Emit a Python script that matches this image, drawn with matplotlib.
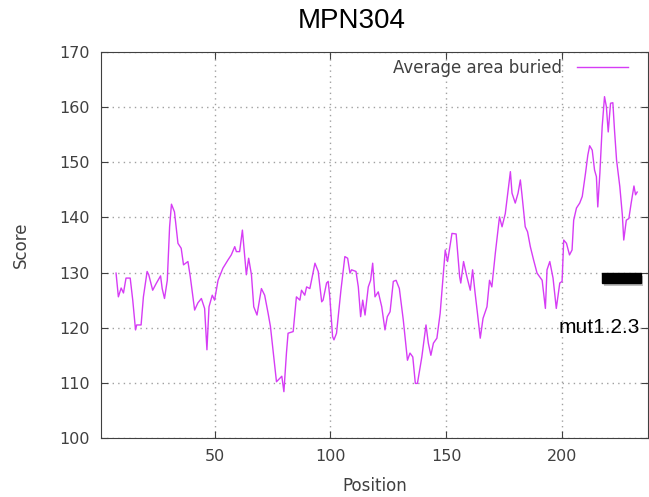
import numpy as np
import matplotlib.pyplot as plt
from matplotlib.patches import Rectangle
import matplotlib.patheffects as pe

# values
position = [7.5, 8.5, 9.7, 10.7, 11.8, 13.6, 14.7, 15.9, 16.4, 18.3, 19.3, 20.9, 21.6, 23.3,
            24.8, 26.7, 27.4, 28.4, 29.6, 30.6, 31.4, 32.7, 34.2, 35.6, 36.6, 38.5, 39.5,
            41.4, 42.8, 44.3, 45.7, 46.7, 47.6, 49.0, 50.0, 51.5, 53.6, 55.8, 57.2, 58.7,
            59.4, 60.8, 62.0, 63.0, 63.7, 64.7, 65.9, 66.9, 68.3, 70.2, 71.6, 73.1, 74.1,
            75.2, 76.7, 78.1, 79.0, 79.9, 81.0, 81.7, 83.9, 85.3, 86.8, 87.5, 88.9, 89.7,
            91.1, 93.3, 94.7, 96.2, 96.8, 98.3, 99.0, 99.7, 100.9, 101.5, 102.6, 104.5,
            106.2, 107.4, 108.4, 109.1, 111.0, 112.0, 113.0, 113.9, 114.9, 116.3, 117.3,
            118.2, 119.2, 120.6, 122.1, 123.5, 124.5, 125.7, 127.1, 128.3, 129.7, 131.4,
            133.2, 134.3, 135.5, 136.6, 137.5, 139.4, 141.2, 142.2, 143.3, 144.4, 145.9,
            147.3, 149.5, 150.5, 152.4, 154.2, 155.7, 156.2, 157.4, 158.8, 160.3, 161.3,
            162.4, 163.4, 164.6, 165.8, 167.5, 168.6, 169.6, 171.1, 172.9, 174.0, 175.4,
            176.8, 177.6, 178.3, 179.7, 180.9, 181.9, 182.6, 184.0, 185.0, 186.2, 187.6,
            189.1, 191.3, 192.7, 193.4, 194.6, 196.0, 197.4, 198.9, 199.9, 200.6, 201.8,
            203.1, 204.2, 204.9, 206.1, 207.5, 208.6, 210.0, 211.0, 211.8, 212.9, 213.9,
            214.7, 215.3, 216.2, 217.2, 218.2, 219.0, 219.8, 220.8, 221.8, 222.5, 223.4,
            224.8, 225.9, 226.5, 227.6, 228.7, 229.7, 230.9, 231.6, 232.3]
score = [129.9, 125.6, 127.2, 126.3, 129.0, 129.0, 125.0, 119.6, 120.5, 120.5, 125.6, 130.2,
         129.6, 126.8, 128.0, 129.4, 127.1, 125.3, 128.6, 138.3, 142.4, 141.0, 135.3, 134.4,
         131.4, 132.0, 129.3, 123.2, 124.5, 125.3, 123.5, 116.0, 123.8, 125.9, 125.0, 128.6,
         130.8, 132.3, 133.2, 134.7, 133.8, 133.8, 137.7, 132.9, 129.6, 132.6, 129.6, 123.8,
         122.3, 127.1, 125.9, 122.6, 120.2, 116.0, 110.2, 110.8, 111.2, 108.4, 115.4, 119.0,
         119.3, 125.6, 125.0, 126.8, 125.9, 127.4, 127.1, 131.7, 130.2, 124.7, 125.0, 128.1,
         128.4, 125.6, 118.4, 117.8, 119.0, 126.8, 132.9, 132.6, 129.9, 130.5, 130.2, 127.4,
         122.0, 125.0, 122.3, 127.4, 128.6, 131.7, 125.6, 126.5, 123.8, 119.6, 122.0, 122.9,
         128.4, 128.6, 127.1, 121.4, 114.1, 115.4, 114.7, 109.9, 109.9, 114.7, 120.5, 117.2,
         115.0, 117.2, 118.1, 122.6, 134.1, 132.0, 137.1, 137.0, 129.3, 128.1, 132.0, 129.3,
         126.8, 130.5, 126.2, 122.6, 118.1, 121.7, 123.8, 128.6, 127.4, 133.5, 140.1, 138.3,
         140.7, 145.6, 148.3, 144.4, 142.6, 144.4, 146.8, 144.1, 138.3, 137.4, 134.7, 132.3,
         129.9, 128.6, 123.5, 130.5, 132.0, 129.0, 123.5, 128.1, 128.4, 135.9, 135.3, 133.2,
         134.1, 139.5, 141.7, 142.6, 143.8, 148.0, 151.3, 153.0, 152.2, 148.6, 147.4, 141.9,
         148.0, 156.5, 161.9, 160.1, 155.5, 160.7, 160.8, 155.9, 150.4, 145.6, 140.4, 135.9,
         139.5, 139.8, 142.6, 145.7, 144.1, 144.6]

mut_start, mut_end = 217.2, 233.8
mut_level = 129.0

plt.rcParams['font.family'] = ['DejaVu Sans']
fig = plt.figure(figsize=(6.49, 4.97), dpi=100)
ax = fig.add_axes([0.1556, 0.1187, 0.843, 0.7767])

ax.plot(position, score, color='#d63cf5', lw=1.0, label='Average area buried')

ax.set_xlim(1, 237)
ax.set_ylim(100, 170)
ax.set_xticks([50, 100, 150, 200])
ax.set_yticks(np.arange(100, 171, 10))
ax.grid(True, color='#a0a0a0', linestyle=(0, (1, 3)), lw=1.0)
ax.tick_params(direction='in', length=5, colors='#404040', labelsize=11.5,
               top=True, right=True, pad=8)
for s in ax.spines.values():
    s.set_color('#404040')

ax.set_xlabel('Position', color='#404040', fontsize=12, labelpad=9)
ax.set_ylabel('Score', color='#404040', fontsize=12, labelpad=21)

leg = ax.legend(loc='upper right', frameon=False, markerfirst=False, fontsize=12,
                handlelength=3.05, borderaxespad=0.0, handletextpad=0.9,
                bbox_to_anchor=(0.975, 1.0))
for t in leg.get_texts():
    t.set_color('#404040')

# mutation marker
bar = Rectangle((mut_start, mut_level - 0.9), mut_end - mut_start, 1.8,
                color='black', zorder=5,
                path_effects=[pe.SimplePatchShadow(offset=(1.5, -2), alpha=0.25), pe.Normal()])
ax.add_patch(bar)
ax.text(216, 120, 'mut1.2.3', fontsize=15, family='Liberation Sans',
        ha='center', va='center', color='black', zorder=6)

fig.text(0.542, 0.957, 'MPN304', fontsize=20, family='Liberation Sans',
         ha='center', va='center')

fig.savefig('out.png', dpi=100)
